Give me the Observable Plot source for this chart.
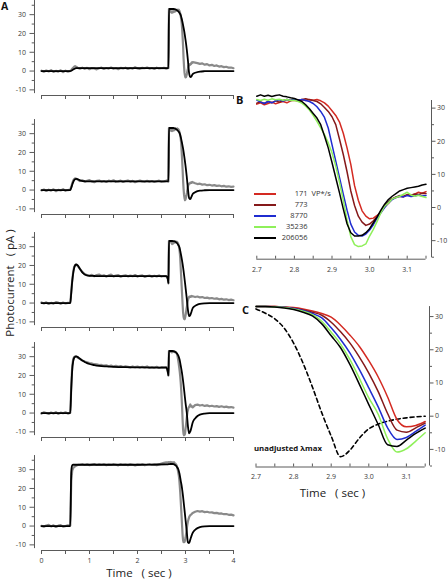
<!DOCTYPE html>
<html><head><meta charset="utf-8">
<script src="https://cdn.jsdelivr.net/npm/d3@7"></script>
<script src="https://cdn.jsdelivr.net/npm/@observablehq/plot@0.6"></script>
<style>
body{margin:0;background:#fff}
#fig{position:relative;width:448px;height:580px;overflow:hidden;background:#fff;font-family:"Open Sans",sans-serif;color:#222}
.lbl{position:absolute;white-space:pre;line-height:1}
</style></head><body><div id="fig"></div>
<script>
// ---------- DATA ----------
// Panel A: time grids (sec)
const tGrayPre = [0,0.05,0.1,0.15,0.2,0.25,0.3,0.35,0.4,0.45,0.5,0.55,0.6,0.62,0.64,0.66,0.68,0.7,0.73,0.76,0.8,0.85,0.9,0.95,1.0,1.05,1.1,1.15,1.2,1.25,1.3,1.35,1.4,1.45,1.5,1.55,1.6,1.65,1.7,1.75,1.8,1.85,1.9,1.95,2.0,2.05,2.1,2.15,2.2,2.25,2.3,2.35,2.4,2.45,2.5,2.55,2.6,2.63,2.645,2.655,2.68];
const tGrayTail = [3.2,3.25,3.3,3.35,3.4,3.45,3.5,3.55,3.6,3.65,3.7,3.75,3.8,3.85,3.9,3.95,4.0];
const tModelPre = [0,0.6,0.62,0.64,0.66,0.68,0.7,0.72,0.75,0.78,0.82,0.86,0.9,0.95,1.0,1.1,1.2,1.35,1.5,1.75,2.0,2.3,2.6,2.63,2.645,2.655,2.68];
const tModelTail = [3.2,3.25,3.3,3.4,3.5,3.7,4.0];

// Panel A recorded currents (gray), before the B window
const grayPre1 = [0.2,-0.4,0.3,-0.2,0.5,-0.5,0.1,-0.3,0.4,-0.6,0.2,-0.3, 0.1,0.6,1.2,1.8,2.3, 2.6,2.2,1.6,
  1.3,1.8,1.2,1.7,1.0,1.6,1.4,0.9,1.5,1.8,1.1,1.6,1.3,1.9,1.2,1.5,1.0,1.7,1.4,1.8,1.1,1.6,1.3,2.0,1.4,1.2,1.7,1.5,1.9,1.3,1.6,1.1,1.8,1.4,1.5,1.7,1.3,
  1.5,1.6,33.0,32.6];
const grayPre2 = [-0.2,0.3,-0.5,0.2,-0.3,0.4,-0.6,0.1,-0.2,0.5,-0.4,0.0, 0.2,1.8,3.6,5.0,5.8, 6.2,6.0,5.4,
  4.8,5.2,4.4,4.9,5.3,4.6,4.2,4.9,5.1,4.5,4.8,4.3,5.0,4.7,5.2,4.4,4.6,5.0,4.3,4.8,5.1,4.5,4.9,4.2,4.7,5.0,4.6,4.4,4.9,4.5,4.8,4.3,4.7,5.0,4.4,4.6,4.9,
  5.4,4.6,33.0,32.6];
const grayPre3 = [0.3,-0.2,0.4,-0.5,0.1,-0.3,0.5,0.2,-0.4,0.3,-0.2,0.1, 0.3,6.0,12.0,16.5,19.2, 20.2,20.4,19.6, 18.2,16.6,15.4,14.8,
  14.6,15.0,14.3,14.9,15.2,14.4,14.8,14.1,14.7,15.1,14.2,14.6,14.9,14.0,14.5,14.8,14.2,14.6,14.3,14.9,14.1,14.5,14.7,13.9,14.4,14.6,14.0,14.5,14.2,14.7,14.1,14.4,14.3,
  13.0,10.5,33.0,32.8];
const grayPre4 = [-0.3,0.4,0.0,-0.5,0.3,-0.2,0.5,-0.4,0.2,-0.1,0.4,-0.3, 0.2,14.0,25.0,28.6,29.8, 30.2,30.0,29.4, 28.8,28.0,27.4,27.0,
  26.6,26.4,26.0,25.9,25.5,25.6,25.2,25.4,24.9,25.3,24.8,25.1,24.7,25.0,24.5,24.9,24.6,24.3,24.8,24.4,24.7,24.2,24.6,24.3,24.8,24.1,24.5,24.2,24.6,24.0,24.4,24.3,24.5,
  22.5,20.0,33.0,32.8];
const grayPre5 = [0.1,-0.4,0.3,0.6,-0.2,0.4,-0.5,0.2,0.5,-0.3,0.0,0.4, 0.3,24.0,29.5,30.8,31.4, 31.8,32.2,32.5,
  32.6,32.9,32.5,32.8,32.4,32.7,33.0,32.5,32.8,32.6,32.9,32.4,32.7,32.5,32.9,32.6,32.3,32.8,32.5,32.7,32.4,32.8,32.6,32.3,32.7,32.5,32.8,32.4,32.6,32.9,32.5,32.7,32.4,32.8,33.2,33.6,33.9,
  33.7,34.0,33.8,34.1];
const grayTail1 = [4.5,4.2,3.8,4.1,3.4,3.7,3.0,3.3,2.7,3.0,2.4,2.6,2.1,2.3,1.8,1.9,1.5];
const grayTail2 = [3.6,3.2,3.4,2.9,3.1,2.6,2.8,2.4,2.6,2.2,2.4,2.0,2.2,1.8,2.0,1.7,1.8];
const grayTail3 = [3.2,3.5,3.0,3.2,2.7,2.9,2.5,2.7,2.3,2.5,2.0,2.2,1.8,2.0,1.6,1.8,1.5];
const grayTail4 = [4.2,4.5,4.0,4.3,3.8,4.1,3.6,3.9,3.5,3.7,3.3,3.6,3.2,3.4,3.0,3.2,2.9];
const grayTail5 = [7.6,8.0,7.7,7.9,7.4,7.6,7.2,7.3,6.9,7.0,6.6,6.7,6.3,6.4,6.0,6.1,5.7];

// Panel A model (black), before the C window and after it
const modelPre1 = [0,0,0.15,0.45,0.8,1.1,1.35,1.5,1.6,1.6,1.6,1.6,1.6,1.6,1.6,1.6,1.6,1.6,1.6,1.6,1.6,1.6,1.6,1.6,1.6,33,33];
const modelPre2 = [0,0,1.2,2.8,4.2,5.2,5.7,5.9,5.8,5.4,5.0,4.8,4.7,4.6,4.6,4.6,4.6,4.6,4.6,4.6,4.6,4.6,4.6,4.6,4.6,33,33];
const modelPre3 = [0,0,5.5,11.5,15.8,18.6,20.0,20.5,20.2,19.0,17.4,16.0,15.2,14.7,14.5,14.4,14.3,14.3,14.3,14.3,14.3,14.3,14.3,13.0,10.5,33,33];
const modelPre4 = [0,0,13,23,27.5,29.3,29.9,30.1,29.9,29.3,28.5,27.8,27.2,26.6,26.1,25.5,25.1,24.8,24.6,24.4,24.3,24.2,24.2,22.0,20.0,33,33];
const modelPre5 = [0,0,29.0,32.3,32.6,32.6,32.6,32.6,32.6,32.6,32.6,32.6,32.6,32.6,32.6,32.6,32.6,32.6,32.6,32.6,32.6,32.7,32.8,32.8,32.9,32.9,33.0];
const modelTail1 = [-0.9,-0.5,-0.25,-0.08,-0.02,0,0];
const modelTail2 = [-1.2,-0.6,-0.3,-0.1,-0.03,0,0];
const modelTail3 = [-1.5,-0.8,-0.4,-0.12,-0.04,0,0];
const modelTail4 = [-2.9,-1.6,-0.8,-0.25,-0.08,0,0];
const modelTail5 = [-2.0,-1.1,-0.55,-0.15,-0.05,0,0];

// Panel B: recorded responses at step offset
const tB = [2.70,2.71,2.72,2.73,2.74,2.75,2.76,2.77,2.78,2.79,2.80,2.81,2.82,2.83,2.84,2.85,2.86,2.87,2.88,2.89,2.90,2.91,2.92,2.93,2.94,2.95,2.96,2.97,2.98,2.99,3.00,3.01,3.02,3.03,3.04,3.05,3.06,3.07,3.08,3.09,3.10,3.11,3.12,3.13,3.14,3.15];
const b171 = [31.2,31.6,31.0,31.4,31.8,31.3,31.7,32.0,31.6,32.2, 32.4,32.1,32.5,32.3,32.6,32.4,32.6,32.2,31.6,30.6, 29.2,27.8,25.8,22.4,18.0,13.0,6.6,2.2,-1.0,-2.6, -3.4,-3.2,-2.4,-1.4,0.2,1.2,2.6,3.0,3.4,3.2, 3.8,3.6,4.0,4.6,4.3,4.8];
const b773 = [31.5,31.9,31.4,32.0,31.6,32.2,31.8,32.3,32.6,32.3, 32.7,32.4,32.6,32.8,32.5,32.3,32.0,31.3,30.2,29.0, 27.4,25.0,20.6,16.0,10.8,5.0,0.6,-2.6,-4.4,-5.4, -5.0,-4.0,-2.8,-1.4,0.4,1.8,2.6,3.2,3.6,3.4, 3.9,3.7,4.1,3.9,4.3,4.2];
const b8770 = [32.4,31.8,31.4,32.0,31.6,32.2,32.5,32.1,32.6,32.3, 32.7,32.4,32.6,32.3,32.0,31.4,30.4,29.0,27.2,24.0, 19.0,14.0,9.0,4.0,-0.8,-5.0,-7.4,-8.4,-8.6,-8.0, -6.8,-5.2,-3.2,-1.6,0.0,1.4,2.4,3.0,3.4,3.2, 3.6,3.3,3.5,3.8,3.5,3.6];
const b35236 = [32.6,32.3,32.7,32.4,32.8,32.5,32.7,32.4,32.6,32.3, 32.4,32.0,31.5,30.6,29.4,27.8,26.0,24.0,22.0,19.5, 16.5,12.5,7.6,2.2,-3.8,-8.8,-11.2,-11.8,-11.6,-11.0, -8.6,-6.6,-4.2,-1.6,0.4,1.4,2.6,3.0,3.4,4.0, 4.6,3.8,3.4,3.7,3.3,3.0];
const b206056 = [33.6,34.0,33.6,33.9,33.5,33.8,34.0,33.6,33.4,33.1, 32.9,32.5,32.0,31.0,29.8,28.4,27.0,25.0,21.6,18.0, 13.6,9.0,4.4,-0.4,-4.9,-7.6,-8.6,-8.6,-8.4,-7.6, -6.4,-4.6,-2.8,-0.8,1.0,2.4,3.4,4.2,5.0,5.4, 5.8,6.0,6.2,6.4,6.8,7.0];

// Panel C: model responses at step offset
const tC = [2.70,2.725,2.75,2.775,2.80,2.825,2.85,2.875,2.90,2.925,2.95,2.975,3.00,3.025,3.05,3.075,3.10,3.125,3.15];
const c171 = [33.0,33.0,33.0,32.9,32.7,32.3,31.7,30.9,29.8,27.4,24.4,21.0,16.7,11.8,5.8,-1.0,-3.2,-2.8,-1.6];
const c773 = [33.0,33.0,33.0,32.8,32.5,32.0,31.3,30.4,28.3,25.4,22.0,17.8,13.0,7.4,0.8,-4.2,-4.8,-3.5,-2.1];
const c8770 = [33.0,33.0,32.9,32.8,32.4,31.8,30.9,29.6,26.6,23.1,19.0,14.0,8.5,2.8,-3.5,-7.0,-6.4,-4.6,-2.7];
const c35236 = [33.0,33.0,32.9,32.7,32.3,31.6,30.6,28.6,25.3,21.7,17.0,11.4,5.5,0.6,-6.8,-10.8,-9.8,-7.5,-5.0];
const c206056 = [33.0,33.0,32.9,32.6,32.1,31.3,30.2,27.8,24.2,20.6,15.5,9.6,3.5,-2.5,-8.6,-9.1,-7.2,-5.2,-3.6];
const cUnadjusted = [32.3,31.0,29.3,26.5,22.0,16.0,8.8,1.0,-6.0,-12.2,-10.2,-6.6,-3.8,-2.4,-1.5,-0.9,-0.5,-0.2,0.0];

// Series labels, colours, ticks
const intensities = ["171", "773", "8770", "35236", "206056"];
const intensityUnit = "VP*/s";
const seriesColors = ["#d42a22", "#85191a", "#1f2cd0", "#8ff05a", "#000000"];
const yTicksMajor = [-10, 0, 10, 20, 30];
const yTicksMinorA = [-5, 5, 15, 25, 35];
const yTicksMinorBC = [-15, -5, 5, 15, 25];
const xTicksA = [0, 0.5, 1, 1.5, 2, 2.5, 3, 3.5, 4];
const xLabelsA = [0, 1, 2, 3, 4];
const xTicksBC = [2.7, 2.75, 2.8, 2.85, 2.9, 2.95, 3.0, 3.05, 3.1, 3.15];
const xLabelsBC = [2.7, 2.8, 2.9, 3.0, 3.1];

const grayPre = [grayPre1, grayPre2, grayPre3, grayPre4, grayPre5];
const grayTail = [grayTail1, grayTail2, grayTail3, grayTail4, grayTail5];
const modelPre = [modelPre1, modelPre2, modelPre3, modelPre4, modelPre5];
const modelTail = [modelTail1, modelTail2, modelTail3, modelTail4, modelTail5];
const bTraces = [b171, b773, b8770, b35236, b206056];
const cCurves = [c171, c773, c8770, c35236, c206056];

// ---------- DRAW ----------
const fig = document.getElementById("fig");
const zip = (ts, vs) => ts.map((t, i) => ({t, v: vs[i]}));
function place(el, left, top) {
  el.style.position = "absolute";
  el.style.left = left + "px";
  el.style.top = top + "px";
  fig.appendChild(el);
}
function label(text, css) {
  const d = document.createElement("div");
  d.className = "lbl";
  d.textContent = text;
  Object.assign(d.style, css);
  fig.appendChild(d);
  return d;
}
const baseStyle = {background: "transparent", overflow: "visible", fontFamily: "'Open Sans', sans-serif", fontSize: "7px", color: "#3a3a3a"};
const axisGray = "#5a5a5a";

// Panel A
const aTops = [-1, 118, 231, 341, 454];
for (let i = 0; i < 5; i++) {
  const gray = [...zip(tGrayPre, grayPre[i]), ...zip(tB, bTraces[i]), ...zip(tGrayTail, grayTail[i])];
  const model = [...zip(tModelPre, modelPre[i]), ...zip(tC, cCurves[i]), ...zip(tModelTail, modelTail[i])];
  const last = i === 4;
  const svg = Plot.plot({
    width: 240, height: 112, marginLeft: 34, marginRight: 7, marginTop: 2, marginBottom: 16,
    style: baseStyle,
    x: {domain: [0, 4], range: [41, 233]},
    y: {domain: [-13, 37], range: [96, 2]},
    marks: [
      Plot.ruleX([0], {y1: -12, y2: 37.5, dx: -7, stroke: axisGray}),
      Plot.ruleY([-13], {x1: 0, x2: 4, stroke: axisGray}),
      Plot.axisY({anchor: "left", ticks: yTicksMajor, tickSize: 4.5, tickPadding: 4, tickFormat: d => String(d), label: null, stroke: axisGray}),
      Plot.axisY({anchor: "left", ticks: yTicksMinorA, tickSize: 2.3, tickFormat: () => "", label: null, stroke: axisGray}),
      Plot.axisX({anchor: "bottom", ticks: xTicksA, tickSize: 4, tickPadding: 4,
        tickFormat: d => (last && xLabelsA.includes(d)) ? String(d) : "", label: null, stroke: axisGray}),
      Plot.line(gray, {x: "t", y: "v", stroke: "#8a8a8a", strokeWidth: 2.2}),
      Plot.line(model, {x: "t", y: "v", stroke: "#000", strokeWidth: 1.8, curve: "monotone-x"})
    ]
  });
  place(svg, 0, aTops[i]);
}

// Panel B
const svgB = Plot.plot({
  width: 218, height: 200, marginLeft: 26, marginRight: 17, marginTop: 12, marginBottom: 29.3,
  style: baseStyle,
  x: {domain: [2.7, 3.15], range: [26.3, 195.5]},
  y: {domain: [-15.6, 32.3], range: [170.7, 12]},
  marks: [
    Plot.ruleX([3.15], {y1: -15.2, y2: 32.3, dx: 5.5, stroke: axisGray}),
    Plot.ruleY([-15.6], {x1: 2.7, x2: 3.15, stroke: axisGray}),
    Plot.ruleX(xTicksBC, {y1: -15.6, y2: -14.7, stroke: axisGray}),
    Plot.axisY({anchor: "right", ticks: yTicksMajor, tickSize: 3.5, tickPadding: 2, tickFormat: d => String(d), label: null, stroke: axisGray}),
    Plot.axisY({anchor: "right", ticks: yTicksMinorBC, tickSize: 2, tickFormat: () => "", label: null, stroke: axisGray}),
    Plot.axisX({anchor: "bottom", ticks: xLabelsBC, tickSize: 0, tickPadding: 8, tickFormat: d3.format(".1f"), label: null}),
    ...bTraces.map((vals, k) => Plot.line(zip(tB, vals), {x: "t", y: "v", stroke: seriesColors[k], strokeWidth: 1.5}))
  ]
});
place(svgB, 230, 88);

// Panel C
const svgC = Plot.plot({
  width: 218, height: 200, marginLeft: 25, marginRight: 19, marginTop: 10.1, marginBottom: 29.5,
  style: baseStyle,
  x: {domain: [2.7, 3.15], range: [25.5, 194.7]},
  y: {domain: [-15.3, 33], range: [170.5, 10.1]},
  marks: [
    Plot.ruleX([3.15], {y1: -15, y2: 33, dx: 4.3, stroke: axisGray}),
    Plot.ruleY([-15.3], {x1: 2.7, x2: 3.15, stroke: axisGray}),
    Plot.ruleX(xTicksBC, {y1: -15.3, y2: -14.4, stroke: axisGray}),
    Plot.axisY({anchor: "right", ticks: yTicksMajor, tickSize: 3.5, tickPadding: 2, tickFormat: d => String(d), label: null, stroke: axisGray}),
    Plot.axisY({anchor: "right", ticks: yTicksMinorBC, tickSize: 2, tickFormat: () => "", label: null, stroke: axisGray}),
    Plot.axisX({anchor: "bottom", ticks: xLabelsBC, tickSize: 0, tickPadding: 7.3, tickFormat: d3.format(".1f"), label: null}),
    Plot.line(zip(tC, cUnadjusted), {x: "t", y: "v", stroke: "#000", strokeWidth: 1.6, strokeDasharray: "4,3", curve: "monotone-x"}),
    ...cCurves.map((vals, k) => Plot.line(zip(tC, vals), {x: "t", y: "v", stroke: seriesColors[k], strokeWidth: 1.5, curve: "monotone-x"}))
  ]
});
place(svgC, 230, 296);

// Legend for B
intensities.forEach((lab, k) => {
  const cy = 194 + k * 11;
  const ln = document.createElement("div");
  Object.assign(ln.style, {position: "absolute", left: "254px", top: (cy - 1) + "px", width: "22px", height: "2px", background: seriesColors[k]});
  fig.appendChild(ln);
  label(lab, {left: "268px", width: "39.5px", textAlign: "right", top: (cy - 4) + "px", fontSize: "7.5px", color: "#333"});
  if (k === 0) label(intensityUnit, {left: "311.5px", top: (cy - 4) + "px", fontSize: "7.5px", color: "#333"});
});

// Texts
label("A", {left: "1px", top: "1px", fontSize: "10.5px", fontWeight: "700", color: "#111"});
label("B", {left: "236px", top: "93.5px", fontSize: "11px", fontWeight: "700", color: "#111"});
label("C", {left: "242px", top: "303.5px", fontSize: "11px", fontWeight: "700", color: "#111"});
label("unadjusted λmax", {left: "254px", top: "444.5px", fontSize: "7.8px", fontWeight: "700", color: "#111"});
label("Time   ( sec )", {left: "139px", top: "573px", fontSize: "11.5px", color: "#222", transform: "translate(-50%,-50%)"});
label("Time   ( sec )", {left: "332.5px", top: "492.7px", fontSize: "11.5px", color: "#222", transform: "translate(-50%,-50%)"});
label("Photocurrent   ( pA )", {left: "10px", top: "283px", fontSize: "11.5px", color: "#222", transform: "translate(-50%,-50%) rotate(-90deg)"});
</script></body></html>
